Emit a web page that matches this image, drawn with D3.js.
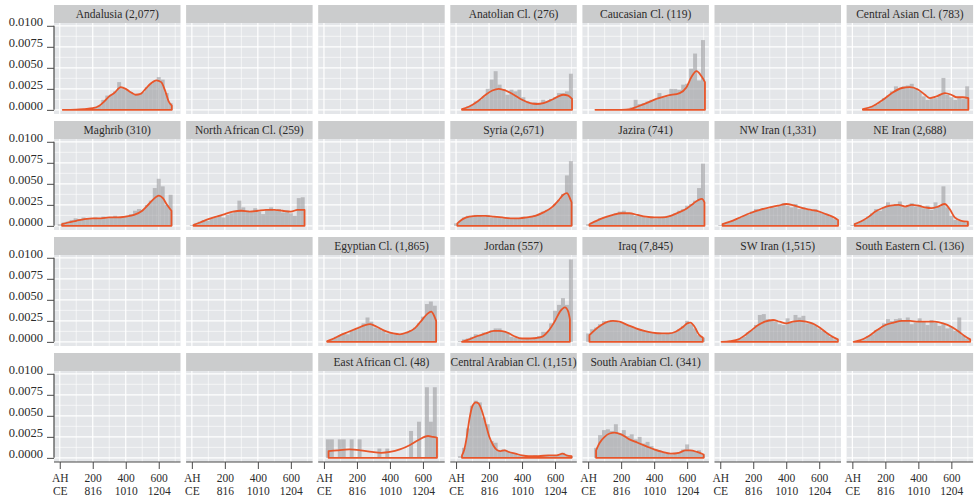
<!DOCTYPE html>
<html>
<head>
<meta charset="utf-8">
<script src="https://cdn.jsdelivr.net/npm/d3@7"></script>
<style>
  body { margin: 0; background: #ffffff; }
  svg { display: block; }
  text { font-family: "Liberation Serif", "DejaVu Serif", serif; fill: #2b2b2b; }
</style>
</head>
<body>
<svg id="chart" width="979" height="498"></svg>
<script>
// ---- Facet titles, row by row (blank string = empty facet) ----
const stripLabels = [
  "Andalusia (2,077)", "", "", "Anatolian Cl. (276)", "Caucasian Cl. (119)", "", "Central Asian Cl. (783)",
  "Maghrib (310)", "North African Cl. (259)", "", "Syria (2,671)", "Jazira (741)", "NW Iran (1,331)", "NE Iran (2,688)",
  "", "", "Egyptian Cl. (1,865)", "Jordan (557)", "Iraq (7,845)", "SW Iran (1,515)", "South Eastern Cl. (136)",
  "", "", "East African Cl. (48)", "Central Arabian Cl. (1,151)", "South Arabian Cl. (341)", "", ""
];

// ---- Axis ticks ----
const ahTicks = [0, 200, 400, 600];
const ahLabels = ["AH", "200", "400", "600"];
const ceLabels = ["CE", "816", "1010", "1204"];
const densityTicks = [0, 0.0025, 0.005, 0.0075, 0.01];
const densityLabels = ["0.0000", "0.0025", "0.0050", "0.0075", "0.0100"];
const ahMinor = [100, 300, 500, 700];
const densityMinor = [0.00125, 0.00375, 0.00625, 0.00875];

// ---- Histogram bins (AH year, bin centre) ----
const binCenters = [0, 24, 48, 72, 96, 120, 144, 168, 192, 216, 240, 264, 288, 312, 336,
                    360, 384, 408, 432, 456, 480, 504, 528, 552, 576, 600, 624, 648, 672, 696];
const binWidth = 24;

// ---- Histogram densities per region ----
const andalusiaHist = [0,0,0,0,0,0.00005,0.0001,0.0001,0.0002,0.0003,0.0005,0.0012,0.0017,0.0018,0.0022,0.0033,0.0026,0.0024,0.0021,0.0018,0.0018,0.0021,0.0027,0.0031,0.0034,0.0039,0.0036,0.0020,0.0008,0];
const anatolianHist = [0,0,0.0002,0.0004,0.0006,0.0010,0.0012,0.0016,0.0025,0.0036,0.0046,0.0030,0.0025,0.0018,0.0024,0.0022,0.0024,0.0015,0.0010,0.0008,0.0009,0.0008,0.0012,0.0010,0.0013,0.0015,0.0020,0.0020,0.0022,0.0043];
const caucasianHist = [0,0,0,0,0,0,0,0,0,0,0,0.0003,0.0012,0.0007,0.0008,0.0010,0.0012,0.0012,0.0020,0.0015,0.0016,0.0025,0.0025,0.0024,0.0030,0.0031,0.0049,0.0067,0.0035,0.0083];
const centralAsianHist = [0,0,0,0.0001,0.0002,0.0004,0.0006,0.0009,0.0014,0.0017,0.0022,0.0028,0.0025,0.0028,0.0029,0.0031,0.0026,0.0022,0.0016,0.0012,0.0013,0.0014,0.0018,0.0038,0.0018,0.0015,0.0012,0.0014,0.0013,0.0028];
const maghribHist = [0.0002,0.0004,0.0005,0.0007,0.0009,0.0008,0.0010,0.0009,0.0008,0.0010,0.0008,0.0011,0.0009,0.0010,0.0012,0.0010,0.0011,0.0012,0.0014,0.0018,0.0020,0.0019,0.0025,0.0030,0.0045,0.0056,0.0047,0.0025,0.0037,0];
const northAfricanHist = [0.0001,0.0003,0.0005,0.0007,0.0006,0.0009,0.0010,0.0012,0.0010,0.0013,0.0015,0.0018,0.0030,0.0022,0.0018,0.0016,0.0021,0.0017,0.0014,0.0020,0.0022,0.0018,0.0020,0.0016,0.0018,0.0015,0.0012,0.0033,0.0034,0];
const syriaHist = [0.0003,0.0006,0.0010,0.0012,0.0011,0.0013,0.0012,0.0011,0.0013,0.0010,0.0011,0.0010,0.0009,0.0010,0.0008,0.0009,0.0009,0.0011,0.0010,0.0012,0.0013,0.0014,0.0017,0.0019,0.0021,0.0026,0.0031,0.0038,0.0060,0.0077];
const jaziraHist = [0.0002,0.0004,0.0006,0.0009,0.0010,0.0012,0.0013,0.0015,0.0017,0.0018,0.0015,0.0014,0.0012,0.0013,0.0011,0.0010,0.0011,0.0009,0.0010,0.0011,0.0012,0.0013,0.0015,0.0018,0.0020,0.0024,0.0026,0.0030,0.0045,0.0074];
const nwIranHist = [0.0001,0.0003,0.0004,0.0006,0.0008,0.0010,0.0012,0.0013,0.0017,0.0020,0.0019,0.0021,0.0020,0.0023,0.0022,0.0025,0.0027,0.0024,0.0022,0.0026,0.0020,0.0022,0.0019,0.0018,0.0020,0.0016,0.0015,0.0013,0.0011,0.0008];
const neIranHist = [0.0001,0.0003,0.0005,0.0007,0.0011,0.0015,0.0020,0.0018,0.0022,0.0028,0.0024,0.0026,0.0029,0.0022,0.0025,0.0027,0.0023,0.0025,0.0021,0.0024,0.0019,0.0028,0.0023,0.0047,0.0022,0.0012,0.0007,0.0006,0.0005,0.0004];
const egyptianHist = [0,0.0001,0.0003,0.0006,0.0008,0.0010,0.0009,0.0013,0.0015,0.0018,0.0022,0.0029,0.0024,0.0017,0.0016,0.0013,0.0010,0.0011,0.0009,0.0008,0.0010,0.0012,0.0014,0.0017,0.0022,0.0030,0.0045,0.0048,0.0043,0];
const jordanHist = [0,0.0001,0.0003,0.0004,0.0006,0.0009,0.0008,0.0011,0.0010,0.0014,0.0016,0.0016,0.0013,0.0011,0.0006,0.0005,0.0004,0.0003,0.0004,0.0003,0.0005,0.0007,0.0012,0.0012,0.0022,0.0037,0.0044,0.0052,0.0044,0.0098];
const iraqHist = [0.0010,0.0015,0.0017,0.0021,0.0025,0.0024,0.0026,0.0025,0.0023,0.0022,0.0020,0.0018,0.0016,0.0015,0.0013,0.0012,0.0011,0.0010,0.0011,0.0009,0.0010,0.0011,0.0012,0.0015,0.0019,0.0025,0.0021,0.0016,0.0008,0.0005];
const swIranHist = [0,0,0.0001,0.0001,0.0002,0.0004,0.0006,0.0011,0.0014,0.0020,0.0032,0.0033,0.0027,0.0026,0.0024,0.0021,0.0020,0.0028,0.0023,0.0032,0.0029,0.0031,0.0022,0.0023,0.0020,0.0016,0.0013,0.0010,0.0006,0.0003];
const southEasternHist = [0,0,0,0.0003,0.0007,0.0009,0.0014,0.0016,0.0022,0.0027,0.0025,0.0027,0.0028,0.0025,0.0029,0.0021,0.0023,0.0028,0.0024,0.0020,0.0026,0.0023,0.0019,0.0021,0.0016,0.0018,0.0013,0.0029,0.0008,0.0004];
const eastAfricanHist = [0,0.0022,0.0022,0,0.0022,0.0022,0,0.0022,0,0.0022,0,0,0,0,0.0011,0,0.0011,0,0,0,0,0,0.0032,0,0.0043,0,0.0084,0.0043,0.0084,0];
const centralArabianHist = [0,0.0002,0.0012,0.0035,0.0062,0.0068,0.0066,0.0048,0.0040,0.0020,0.0018,0.0008,0.0010,0.0008,0.0006,0.0005,0.0003,0.0002,0.0002,0.0002,0.0003,0.0002,0.0003,0.0003,0.0002,0.0003,0.0004,0.0006,0.0003,0.0002];
const southArabianHist = [0,0,0.0012,0.0027,0.0033,0.0034,0.0032,0.0040,0.0029,0.0033,0.0026,0.0028,0.0022,0.0025,0.0017,0.0019,0.0014,0.0010,0.0009,0.0007,0.0005,0.0004,0.0006,0.0007,0.0010,0.0016,0.0009,0.0008,0.0009,0.0004];

// ---- Kernel density estimates per region: [AH year, density] ----
const andalusiaDensity = [[18,0],[100,0.00003],[150,0.0001],[200,0.0002],[240,0.0005],[270,0.0010],[300,0.0016],[330,0.0020],[370,0.0027],[400,0.0025],[430,0.0021],[460,0.0018],[490,0.0019],[520,0.0025],[550,0.0031],[585,0.0035],[615,0.0033],[640,0.0022],[660,0.0010],[679,0.0005]];
const anatolianDensity = [[36,0.0001],[80,0.0004],[130,0.0010],[180,0.0018],[220,0.0023],[259,0.0025],[300,0.0023],[350,0.0018],[400,0.0012],[450,0.0008],[487,0.0007],[530,0.0008],[580,0.0012],[620,0.0016],[650,0.0018],[680,0.0017],[703,0.0013]];
const caucasianDensity = [[44,0],[200,0],[259,0.0001],[300,0.0004],[353,0.0008],[413,0.0013],[480,0.0017],[555,0.0020],[596,0.0027],[626,0.0039],[657,0.0046],[687,0.0040],[708,0.0033]];
const centralAsianDensity = [[64,0.0001],[120,0.0004],[186,0.0012],[240,0.0020],[300,0.0026],[349,0.0027],[400,0.0024],[440,0.0018],[470,0.0014],[510,0.0016],[561,0.0020],[600,0.0018],[633,0.0015],[670,0.0015],[703,0.0014]];
const maghribDensity = [[14,0.0002],[50,0.0004],[100,0.0006],[150,0.0008],[200,0.0009],[250,0.0009],[300,0.0010],[350,0.0010],[400,0.0011],[450,0.0013],[500,0.0018],[540,0.0026],[575,0.0033],[600,0.0036],[625,0.0033],[650,0.0025],[677,0.0018]];
const northAfricanDensity = [[10,0.0001],[50,0.0004],[100,0.0008],[150,0.0011],[200,0.0014],[250,0.0017],[300,0.0018],[350,0.0017],[400,0.0018],[450,0.0019],[500,0.0019],[550,0.0018],[600,0.0017],[640,0.0019],[683,0.0019]];
const syriaDensity = [[8,0.0003],[40,0.0008],[80,0.0011],[130,0.0012],[180,0.0012],[230,0.0011],[280,0.0010],[330,0.0009],[380,0.0009],[430,0.0010],[480,0.0012],[530,0.0016],[580,0.0022],[620,0.0030],[650,0.0037],[672,0.0039],[690,0.0033],[700,0.0028]];
const jaziraDensity = [[8,0.0002],[50,0.0006],[100,0.0010],[150,0.0013],[200,0.0015],[250,0.0015],[300,0.0013],[350,0.0011],[400,0.0010],[450,0.0010],[500,0.0012],[550,0.0016],[600,0.0021],[640,0.0027],[670,0.0031],[690,0.0032],[705,0.0028]];
const nwIranDensity = [[14,0.0002],[60,0.0005],[120,0.0010],[180,0.0015],[240,0.0019],[300,0.0022],[350,0.0024],[400,0.0026],[450,0.0024],[500,0.0021],[550,0.0019],[600,0.0017],[640,0.0014],[680,0.0011],[714,0.0007]];
const neIranDensity = [[14,0.0002],[60,0.0006],[100,0.0011],[140,0.0017],[180,0.0021],[230,0.0024],[280,0.0025],[320,0.0023],[360,0.0025],[400,0.0024],[440,0.0022],[480,0.0021],[520,0.0023],[560,0.0026],[590,0.0020],[620,0.0010],[660,0.0006],[700,0.0005]];
const egyptianDensity = [[20,0.0001],[60,0.0004],[100,0.0008],[150,0.0012],[200,0.0016],[250,0.0020],[280,0.0021],[320,0.0018],[370,0.0013],[420,0.0010],[460,0.0009],[500,0.0011],[550,0.0016],[590,0.0025],[625,0.0033],[650,0.0036],[670,0.0030],[680,0.0025]];
const jordanDensity = [[36,0],[80,0.0003],[130,0.0007],[180,0.0010],[230,0.0013],[260,0.0013],[300,0.0012],[350,0.0007],[400,0.0004],[450,0.0004],[500,0.0005],[530,0.0007],[560,0.0013],[600,0.0025],[630,0.0036],[660,0.0041],[680,0.0036],[690,0.0027]];
const iraqDensity = [[8,0.0008],[40,0.0014],[80,0.0020],[120,0.0024],[150,0.0025],[190,0.0024],[240,0.0020],[290,0.0016],[340,0.0013],[390,0.0011],[440,0.0010],[490,0.0010],[530,0.0012],[570,0.0017],[600,0.0022],[620,0.0023],[645,0.0018],[670,0.0009],[695,0.0005]];
const swIranDensity = [[8,0],[60,0.0001],[110,0.0003],[150,0.0008],[190,0.0014],[230,0.0020],[270,0.0024],[320,0.0026],[360,0.0024],[400,0.0022],[440,0.0024],[480,0.0025],[520,0.0024],[570,0.0021],[610,0.0016],[650,0.0010],[690,0.0005],[713,0.0003]];
const southEasternDensity = [[8,0],[50,0.0002],[100,0.0007],[150,0.0014],[200,0.0020],[250,0.0023],[300,0.0025],[350,0.0025],[400,0.0024],[450,0.0024],[500,0.0024],[550,0.0022],[600,0.0018],[640,0.0013],[680,0.0007],[714,0.0003]];
const eastAfricanDensity = [[28,0.0008],[80,0.0009],[154,0.0010],[220,0.0009],[290,0.0007],[347,0.0006],[400,0.0007],[460,0.0010],[519,0.0015],[570,0.0021],[631,0.0026],[660,0.0025],[685,0.0024]];
const centralArabianDensity = [[36,0.0003],[50,0.0010],[65,0.0025],[80,0.0045],[100,0.0062],[120,0.0066],[135,0.0065],[155,0.0057],[180,0.0040],[200,0.0026],[225,0.0015],[250,0.0009],[270,0.0008],[295,0.0009],[320,0.0007],[360,0.0005],[400,0.0003],[440,0.0002],[500,0.0002],[560,0.0003],[610,0.0003],[645,0.0005],[670,0.0003],[700,0.0002]];
const southArabianDensity = [[48,0.0009],[70,0.0018],[100,0.0025],[130,0.0029],[160,0.0030],[200,0.0028],[250,0.0022],[300,0.0018],[350,0.0014],[400,0.0010],[450,0.0007],[500,0.0005],[550,0.0006],[590,0.0009],[620,0.0009],[660,0.0007],[700,0.0004]];

// Region lookup used when drawing each facet
const regionData = new Map([
  ["Andalusia (2,077)", [andalusiaHist, andalusiaDensity]],
  ["Anatolian Cl. (276)", [anatolianHist, anatolianDensity]],
  ["Caucasian Cl. (119)", [caucasianHist, caucasianDensity]],
  ["Central Asian Cl. (783)", [centralAsianHist, centralAsianDensity]],
  ["Maghrib (310)", [maghribHist, maghribDensity]],
  ["North African Cl. (259)", [northAfricanHist, northAfricanDensity]],
  ["Syria (2,671)", [syriaHist, syriaDensity]],
  ["Jazira (741)", [jaziraHist, jaziraDensity]],
  ["NW Iran (1,331)", [nwIranHist, nwIranDensity]],
  ["NE Iran (2,688)", [neIranHist, neIranDensity]],
  ["Egyptian Cl. (1,865)", [egyptianHist, egyptianDensity]],
  ["Jordan (557)", [jordanHist, jordanDensity]],
  ["Iraq (7,845)", [iraqHist, iraqDensity]],
  ["SW Iran (1,515)", [swIranHist, swIranDensity]],
  ["South Eastern Cl. (136)", [southEasternHist, southEasternDensity]],
  ["East African Cl. (48)", [eastAfricanHist, eastAfricanDensity]],
  ["Central Arabian Cl. (1,151)", [centralArabianHist, centralArabianDensity]],
  ["South Arabian Cl. (341)", [southArabianHist, southArabianDensity]]
]);

// ---- Layout ----
const nCols = 7, nRows = 4;
const colLeft0 = 54, colPitch = 132.1, panelW = 126.5;
const rowTop0 = 5, rowPitch = 116, stripH = 18, panelH = 91;

const PANEL_BG = "#e4e6e9", STRIP_BG = "#cbcccd", AXIS = "#4a4a4a";
const BAR_FILL = "#9c9da0", CURVE = "#e8562a";

const x = d3.scaleLinear().domain([-34.85, 731.85]).range([0, panelW]);
const y = d3.scaleLinear().domain([-0.000492, 0.010332]).range([panelH, 0]);

const svg = d3.select("#chart");

const densityArea = d3.area()
  .x(d => x(d[0]))
  .y0(y(0))
  .y1(d => y(d[1]))
  .curve(d3.curveMonotoneX);

stripLabels.forEach((label, i) => {
  const col = i % nCols, row = Math.floor(i / nCols);
  const left = colLeft0 + col * colPitch;
  const top = rowTop0 + row * rowPitch;
  const g = svg.append("g").attr("transform", `translate(${left},${top})`);

  // facet strip
  g.append("rect").attr("width", panelW).attr("height", stripH).attr("fill", STRIP_BG);
  if (label) {
    g.append("text")
      .attr("x", panelW / 2).attr("y", stripH / 2).attr("dy", "0.35em")
      .attr("text-anchor", "middle")
      .style("font-size", "11.5px")
      .text(label);
  }

  const p = g.append("g").attr("transform", `translate(0,${stripH})`);
  p.append("rect").attr("width", panelW).attr("height", panelH).attr("fill", PANEL_BG);

  // grid: minor then major
  p.selectAll(".vminor").data(ahMinor).join("line")
    .attr("x1", d => x(d)).attr("x2", d => x(d)).attr("y1", 0).attr("y2", panelH)
    .attr("stroke", "#ffffff").attr("stroke-width", 0.6);
  p.selectAll(".hminor").data(densityMinor).join("line")
    .attr("x1", 0).attr("x2", panelW).attr("y1", d => y(d)).attr("y2", d => y(d))
    .attr("stroke", "#ffffff").attr("stroke-width", 0.6);
  p.selectAll(".vmajor").data(ahTicks).join("line")
    .attr("x1", d => x(d)).attr("x2", d => x(d)).attr("y1", 0).attr("y2", panelH)
    .attr("stroke", "#ffffff").attr("stroke-width", 1.2);
  p.selectAll(".hmajor").data(densityTicks).join("line")
    .attr("x1", 0).attr("x2", panelW).attr("y1", d => y(d)).attr("y2", d => y(d))
    .attr("stroke", "#ffffff").attr("stroke-width", 1.2);

  const entry = regionData.get(label);
  if (entry) {
    const [hist, dens] = entry;
    const bins = binCenters.map((c, k) => ({ c, v: hist[k] })).filter(b => b.v > 0);
    p.append("g").selectAll("rect").data(bins).join("rect")
      .attr("x", b => x(b.c - binWidth / 2))
      .attr("width", b => x(b.c + binWidth / 2) - x(b.c - binWidth / 2))
      .attr("y", b => y(b.v))
      .attr("height", b => y(0) - y(b.v))
      .attr("fill", BAR_FILL).attr("fill-opacity", 0.6);

    p.append("path").datum(dens)
      .attr("d", densityArea)
      .attr("fill", "none")
      .attr("stroke", CURVE).attr("stroke-width", 1.8)
      .attr("stroke-linejoin", "round");
  }

  // y axis on the first column (line capped between outer breaks)
  if (col === 0) {
    const ax = p.append("g").call(
      d3.axisLeft(y).tickValues(densityTicks)
        .tickFormat((d, k) => densityLabels[k])
        .tickSize(7).tickPadding(4));
    ax.select(".domain").remove();
    ax.selectAll(".tick line").attr("stroke", AXIS);
    ax.selectAll(".tick text")
      .attr("dy", "-0.05em")
      .style("font-family", "'Liberation Serif', serif")
      .style("font-size", "12.5px").attr("fill", "#2b2b2b");
    ax.append("line")
      .attr("x1", 0).attr("x2", 0)
      .attr("y1", y(0.01)).attr("y2", y(0))
      .attr("stroke", AXIS).attr("stroke-width", 1.2);
  }

  // x axis on the bottom row, labelled in both AH and CE
  if (row === nRows - 1) {
    const ax = p.append("g").attr("transform", `translate(0,${panelH})`).call(
      d3.axisBottom(x).tickValues(ahTicks).tickFormat(() => "").tickSize(7));
    ax.select(".domain").remove();
    ax.selectAll(".tick line").attr("stroke", AXIS);
    ax.selectAll(".tick text").remove();
    ax.selectAll(".tick").each(function (d, k) {
      const t = d3.select(this);
      t.append("text")
        .attr("text-anchor", "middle").attr("x", 0).attr("y", 19.5)
        .style("font-family", "'Liberation Serif', serif")
        .style("font-size", "11.5px").attr("fill", "#2b2b2b")
        .text(ahLabels[k]);
      t.append("text")
        .attr("text-anchor", "middle").attr("x", 0).attr("y", 32.5)
        .style("font-family", "'Liberation Serif', serif")
        .style("font-size", "11.5px").attr("fill", "#2b2b2b")
        .text(ceLabels[k]);
    });
    ax.append("line")
      .attr("x1", 0).attr("x2", panelW).attr("y1", 0).attr("y2", 0)
      .attr("stroke", AXIS).attr("stroke-width", 1.2);
  }
});
</script>
</body>
</html>
